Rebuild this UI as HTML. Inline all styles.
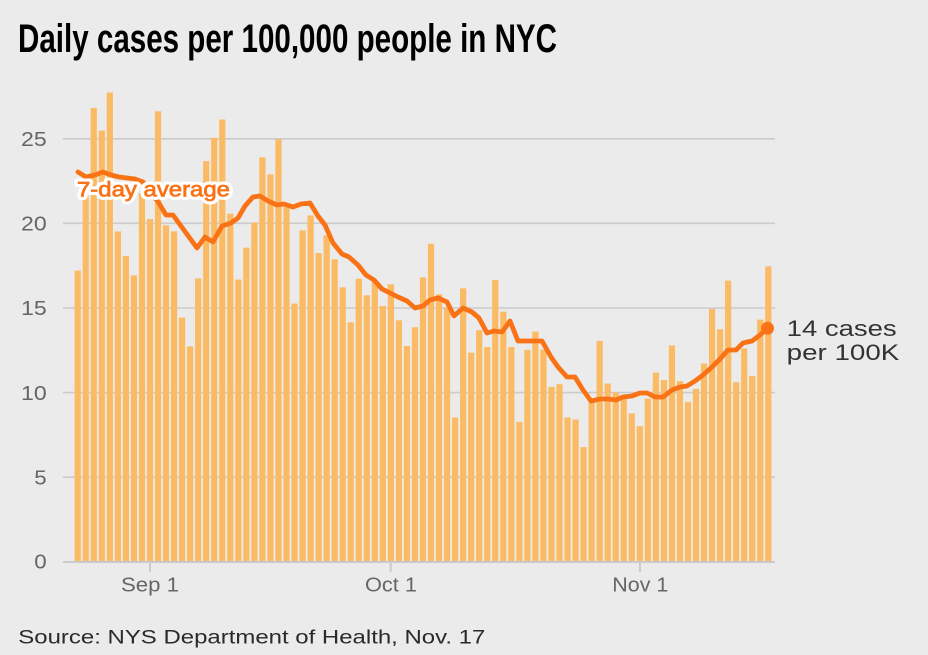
<!DOCTYPE html>
<html>
<head>
<meta charset="utf-8">
<style>
  html, body { margin:0; padding:0; background:#ebebeb; }
  body { width:928px; height:655px; overflow:hidden; }
  svg { display:block; }
  text { font-family:"Liberation Sans", "DejaVu Sans", sans-serif; }
</style>
</head>
<body>
<svg width="928" height="655" viewBox="0 0 928 655" xmlns="http://www.w3.org/2000/svg">
  <rect x="0" y="0" width="928" height="655" fill="#ebebeb"/>

  <text x="18" y="52" font-size="40" font-weight="bold" fill="#000" textLength="539" lengthAdjust="spacingAndGlyphs">Daily cases per 100,000 people in NYC</text>

  <g stroke="#cbcbcb" stroke-width="1.6">
    <line x1="63" y1="138.8" x2="775" y2="138.8"/>
    <line x1="63" y1="223.3" x2="775" y2="223.3"/>
    <line x1="63" y1="308" x2="775" y2="308"/>
    <line x1="63" y1="392.6" x2="775" y2="392.6"/>
    <line x1="63" y1="477.2" x2="775" y2="477.2"/>
  </g>

  <g font-size="20" fill="#666" text-anchor="end">
    <text x="46.7" y="146" textLength="25.7" lengthAdjust="spacingAndGlyphs">25</text>
    <text x="46.7" y="230.5" textLength="25.7" lengthAdjust="spacingAndGlyphs">20</text>
    <text x="46.7" y="315.2" textLength="25.7" lengthAdjust="spacingAndGlyphs">15</text>
    <text x="46.7" y="399.8" textLength="25.7" lengthAdjust="spacingAndGlyphs">10</text>
    <text x="46.7" y="484.4" textLength="12.4" lengthAdjust="spacingAndGlyphs">5</text>
    <text x="46.7" y="568.6" textLength="12.4" lengthAdjust="spacingAndGlyphs">0</text>
  </g>

  <g fill="#fbbb65" transform="translate(74.6,561.3) scale(8.03,-16.9)">
    <rect x="0" y="0" width="0.775" height="17.2"/>
    <rect x="1" y="0" width="0.775" height="21.6"/>
    <rect x="2" y="0" width="0.775" height="26.83"/>
    <rect x="3" y="0" width="0.775" height="25.49"/>
    <rect x="4" y="0" width="0.775" height="27.74"/>
    <rect x="5" y="0" width="0.775" height="19.52"/>
    <rect x="6" y="0" width="0.775" height="18.06"/>
    <rect x="7" y="0" width="0.775" height="16.92"/>
    <rect x="8" y="0" width="0.775" height="21.8"/>
    <rect x="9" y="0" width="0.775" height="20.25"/>
    <rect x="10" y="0" width="0.775" height="26.63"/>
    <rect x="11" y="0" width="0.775" height="19.88"/>
    <rect x="12" y="0" width="0.775" height="19.52"/>
    <rect x="13" y="0" width="0.775" height="14.42"/>
    <rect x="14" y="0" width="0.775" height="12.72"/>
    <rect x="15" y="0" width="0.775" height="16.74"/>
    <rect x="16" y="0" width="0.775" height="23.68"/>
    <rect x="17" y="0" width="0.775" height="25.06"/>
    <rect x="18" y="0" width="0.775" height="26.14"/>
    <rect x="19" y="0" width="0.775" height="20.57"/>
    <rect x="20" y="0" width="0.775" height="16.67"/>
    <rect x="21" y="0" width="0.775" height="18.56"/>
    <rect x="22" y="0" width="0.775" height="20.05"/>
    <rect x="23" y="0" width="0.775" height="23.9"/>
    <rect x="24" y="0" width="0.775" height="22.89"/>
    <rect x="25" y="0" width="0.775" height="24.98"/>
    <rect x="26" y="0" width="0.775" height="20.96"/>
    <rect x="27" y="0" width="0.775" height="15.25"/>
    <rect x="28" y="0" width="0.775" height="19.58"/>
    <rect x="29" y="0" width="0.775" height="20.47"/>
    <rect x="30" y="0" width="0.775" height="18.24"/>
    <rect x="31" y="0" width="0.775" height="19.29"/>
    <rect x="32" y="0" width="0.775" height="17.87"/>
    <rect x="33" y="0" width="0.775" height="16.21"/>
    <rect x="34" y="0" width="0.775" height="14.14"/>
    <rect x="35" y="0" width="0.775" height="16.72"/>
    <rect x="36" y="0" width="0.775" height="15.74"/>
    <rect x="37" y="0" width="0.775" height="16.53"/>
    <rect x="38" y="0" width="0.775" height="15.11"/>
    <rect x="39" y="0" width="0.775" height="16.39"/>
    <rect x="40" y="0" width="0.775" height="14.26"/>
    <rect x="41" y="0" width="0.775" height="12.74"/>
    <rect x="42" y="0" width="0.775" height="13.85"/>
    <rect x="43" y="0" width="0.775" height="16.8"/>
    <rect x="44" y="0" width="0.775" height="18.79"/>
    <rect x="45" y="0" width="0.775" height="15.8"/>
    <rect x="46" y="0" width="0.775" height="15.0"/>
    <rect x="47" y="0" width="0.775" height="8.51"/>
    <rect x="48" y="0" width="0.775" height="16.15"/>
    <rect x="49" y="0" width="0.775" height="12.35"/>
    <rect x="50" y="0" width="0.775" height="13.67"/>
    <rect x="51" y="0" width="0.775" height="12.68"/>
    <rect x="52" y="0" width="0.775" height="16.64"/>
    <rect x="53" y="0" width="0.775" height="14.77"/>
    <rect x="54" y="0" width="0.775" height="12.68"/>
    <rect x="55" y="0" width="0.775" height="8.25"/>
    <rect x="56" y="0" width="0.775" height="12.51"/>
    <rect x="57" y="0" width="0.775" height="13.59"/>
    <rect x="58" y="0" width="0.775" height="12.53"/>
    <rect x="59" y="0" width="0.775" height="10.32"/>
    <rect x="60" y="0" width="0.775" height="10.48"/>
    <rect x="61" y="0" width="0.775" height="8.51"/>
    <rect x="62" y="0" width="0.775" height="8.39"/>
    <rect x="63" y="0" width="0.775" height="6.76"/>
    <rect x="64" y="0" width="0.775" height="9.43"/>
    <rect x="65" y="0" width="0.775" height="13.04"/>
    <rect x="66" y="0" width="0.775" height="10.52"/>
    <rect x="67" y="0" width="0.775" height="9.99"/>
    <rect x="68" y="0" width="0.775" height="9.63"/>
    <rect x="69" y="0" width="0.775" height="8.75"/>
    <rect x="70" y="0" width="0.775" height="8.0"/>
    <rect x="71" y="0" width="0.775" height="9.63"/>
    <rect x="72" y="0" width="0.775" height="11.17"/>
    <rect x="73" y="0" width="0.775" height="10.72"/>
    <rect x="74" y="0" width="0.775" height="12.77"/>
    <rect x="75" y="0" width="0.775" height="10.66"/>
    <rect x="76" y="0" width="0.775" height="9.43"/>
    <rect x="77" y="0" width="0.775" height="10.2"/>
    <rect x="78" y="0" width="0.775" height="11.7"/>
    <rect x="79" y="0" width="0.775" height="14.93"/>
    <rect x="80" y="0" width="0.775" height="13.73"/>
    <rect x="81" y="0" width="0.775" height="16.61"/>
    <rect x="82" y="0" width="0.775" height="10.6"/>
    <rect x="83" y="0" width="0.775" height="12.59"/>
    <rect x="84" y="0" width="0.775" height="10.97"/>
    <rect x="85" y="0" width="0.775" height="14.3"/>
    <rect x="86" y="0" width="0.775" height="17.45"/>
  </g>

  <g stroke="#cbcbcb" stroke-width="2">
    <line x1="63" y1="562" x2="775" y2="562"/>
    <line x1="150" y1="561" x2="150" y2="572"/>
    <line x1="390.7" y1="561" x2="390.7" y2="572"/>
    <line x1="640" y1="561" x2="640" y2="572"/>
  </g>

  <g font-size="20" fill="#666" text-anchor="middle">
    <text x="150" y="591.7" textLength="58" lengthAdjust="spacingAndGlyphs">Sep 1</text>
    <text x="391" y="591.7" textLength="52" lengthAdjust="spacingAndGlyphs">Oct 1</text>
    <text x="640.3" y="591.7" textLength="56" lengthAdjust="spacingAndGlyphs">Nov 1</text>
  </g>

  <polyline fill="none" stroke="#f97316" stroke-width="4.8" stroke-linejoin="round" stroke-linecap="round"
    points="78,172 86,177 95,175 103,172 111,175 119,177 127,178 135,179 143,182 150,194 157,200 166,215 173,215 197,248 205,237 213,242 222,226 231,223 238,218 245,206 253,197 260,196 268,201 277,205 284,204 293,207 301,204 310,203 318,216 325,225 333,243 342,254 349,257 358,265 366,275 374,280 382,289 390,293 398,297 407,301 415,308 423,306 430,300 438,298 447,302 454,316 463,308 472,312 479,318 487,333 494,331 502,332 510,321 518,341 530,341 542,341 551,357 558,367 567,377 575,377 583,390 591,401 600,399 608,399 616,400 623,397 632,396 640,393 647,393 655,397 663,397 672,390 680,387 687,386 695,381 703,375 712,367 720,359 728,350 736,350 743,343 752,341 760,335 767.5,328.3"/>
  <circle cx="767.5" cy="328.3" r="6.5" fill="#f97316"/>

  <text x="77" y="196.7" font-size="21" fill="#ffffff" stroke="#ffffff" stroke-width="7" stroke-linejoin="round" textLength="153" lengthAdjust="spacingAndGlyphs">7-day average</text>
  <text x="77" y="196.7" font-size="21" fill="#f97316" stroke="#f97316" stroke-width="0.7" textLength="153" lengthAdjust="spacingAndGlyphs">7-day average</text>

  <g font-size="22" fill="#333">
    <text x="786.7" y="336" textLength="110" lengthAdjust="spacingAndGlyphs">14 cases</text>
    <text x="786.7" y="360" textLength="112.6" lengthAdjust="spacingAndGlyphs">per 100K</text>
  </g>

  <text x="18.3" y="643.5" font-size="19" fill="#2a2a2a" textLength="467" lengthAdjust="spacingAndGlyphs">Source: NYS Department of Health, Nov. 17</text>
</svg>
</body>
</html>
